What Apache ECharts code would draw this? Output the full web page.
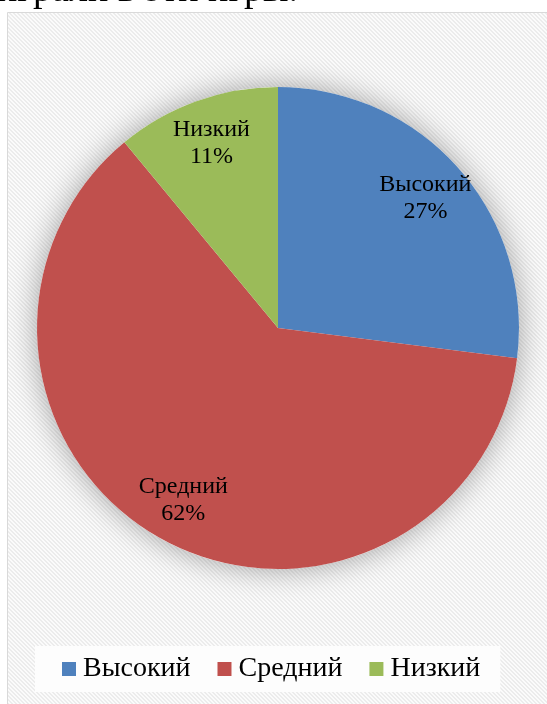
<!DOCTYPE html>
<html>
<head>
<meta charset="utf-8">
<script src="https://cdn.jsdelivr.net/npm/echarts@6/dist/echarts.min.js"></script>
<style>
  html, body { margin: 0; padding: 0; background: #ffffff; }
  #chart { width: 547px; height: 704px; }
</style>
</head>
<body>
<div id="chart"></div>
<script>
// Levels and their shares
const categories = ['Высокий', 'Средний', 'Низкий'];
const shares = [27, 62, 11];
const colors = ['#4f81bd', '#c0504d', '#9bbb59'];
const captionLine = 'играли в эти игры.';

// Light diagonal hatching used as the chart area fill
function hatchPattern() {
  const c = document.createElement('canvas');
  c.width = 4; c.height = 4;
  const g = c.getContext('2d');
  g.fillStyle = '#fbfbfb';
  g.fillRect(0, 0, 4, 4);
  g.fillStyle = '#ececec';
  for (let i = 0; i < 4; i++) {
    g.fillRect(i, i, 1, 1);
    g.fillRect((i + 1) % 4, i, 1, 1);
  }
  return c;
}

const serif = '"Liberation Serif", "Times New Roman", serif';

const pieData = categories.map((name, i) => ({
  name: name,
  value: shares[i],
  itemStyle: { color: colors[i] }
}));

const chart = echarts.init(document.getElementById('chart'), null, { renderer: 'canvas' });

chart.setOption({
  animation: false,
  graphic: [
    {
      type: 'rect',
      z: -10,
      shape: { x: 7.5, y: 12.5, width: 560, height: 720 },
      style: { fill: { image: hatchPattern(), repeat: 'repeat' }, stroke: '#d9d9d9', lineWidth: 1 }
    },
    {
      type: 'text',
      z: -5,
      left: -3,
      top: -28,
      style: {
        text: captionLine,
        font: '38px ' + serif,
        fill: '#000000'
      }
    }
  ],
  legend: {
    data: categories,
    left: 35,
    top: 646,
    padding: [9, 20, 9, 27],
    backgroundColor: '#fdfdfd',
    itemWidth: 14,
    itemHeight: 14,
    itemGap: 27,
    icon: 'rect',
    textStyle: {
      fontFamily: serif,
      fontSize: 28,
      color: '#000000',
      padding: [0, 0, 0, 2]
    }
  },
  series: [
    {
      // soft glow under the whole disc
      type: 'pie',
      silent: true,
      center: [278, 328],
      radius: 241,
      label: { show: false },
      labelLine: { show: false },
      legendHoverLink: false,
      data: [{ name: '', value: 1, itemStyle: { color: '#ffffff', shadowBlur: 30, shadowColor: 'rgba(0,0,0,0.35)' } }],
      z: 1
    },
    {
      type: 'pie',
      center: [278, 328],
      radius: 241,
      startAngle: 90,
      clockwise: true,
      label: { show: false },
      labelLine: { show: false },
      itemStyle: { borderWidth: 0 },
      data: pieData,
      z: 2
    },
    {
      // label ring placed near the rim
      type: 'pie',
      silent: true,
      center: [278, 328],
      radius: [146, 241],
      startAngle: 90,
      clockwise: true,
      legendHoverLink: false,
      itemStyle: { color: 'rgba(0,0,0,0)' },
      label: {
        show: true,
        position: 'inside',
        formatter: '{b}\n{d}%',
        fontFamily: serif,
        fontSize: 24,
        lineHeight: 27,
        color: '#000000'
      },
      labelLine: { show: false },
      data: categories.map((name, i) => ({ name: name, value: shares[i] })),
      z: 3
    }
  ]
});
</script>
</body>
</html>
